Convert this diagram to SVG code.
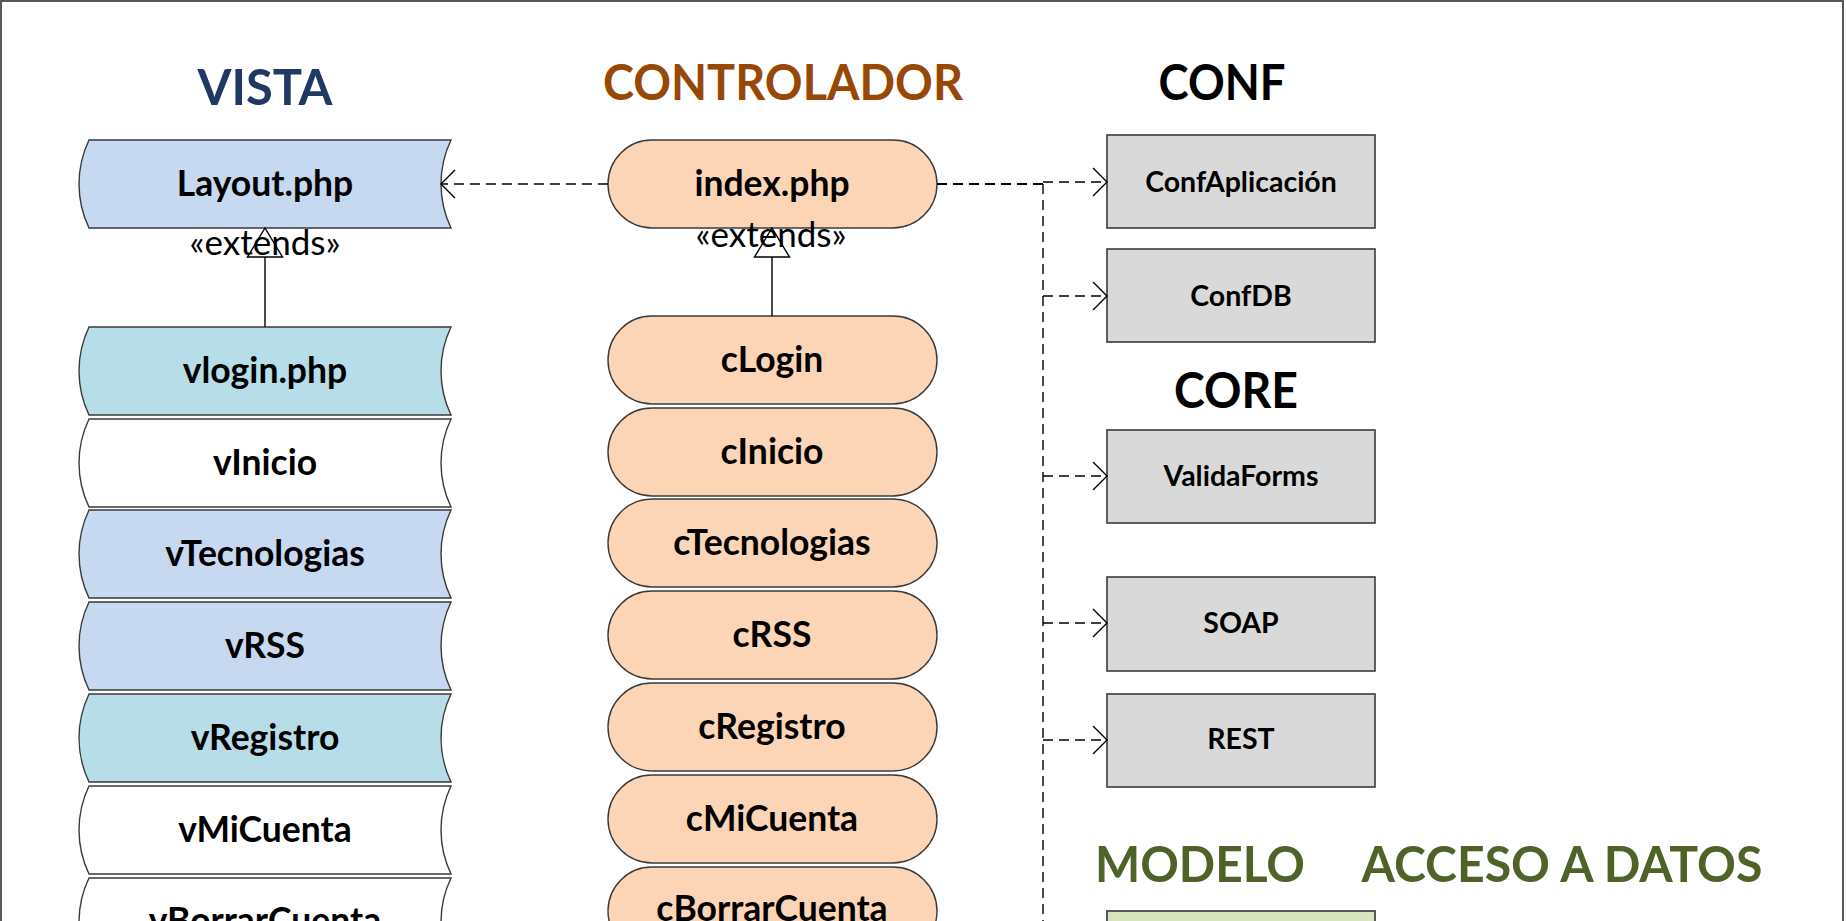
<svg xmlns="http://www.w3.org/2000/svg" width="1846" height="921" viewBox="0 0 1846 921">
<style>
.title{font-family:Lato,"Open Sans","Liberation Sans",sans-serif;font-weight:bold;font-size:49px;text-anchor:middle}
.lbl{font-family:Lato,"Open Sans","Liberation Sans",sans-serif;font-weight:bold;font-size:35.5px;text-anchor:middle;fill:#000}
.blbl{font-family:Lato,"Open Sans","Liberation Sans",sans-serif;font-weight:bold;font-size:28.5px;text-anchor:middle;fill:#000}
.ext{font-family:Lato,"Open Sans","Liberation Sans",sans-serif;font-size:35px;text-anchor:middle;fill:#000}
.wave{stroke:#3a3a3a;stroke-width:1.4}
.cap{fill:#fbd5b5;stroke:#3a3a3a;stroke-width:1.4}
.box{fill:#d9d9d9;stroke:#3a3a3a;stroke-width:1.6}
.dash{stroke:#000;stroke-width:1.4;fill:none;stroke-dasharray:10 6}
.solid{stroke:#000;stroke-width:1.4;fill:none}
.blue{fill:#c6d9f1}.cyan{fill:#b7dde8}.white{fill:#ffffff}
</style>
<defs>
<marker id="open" markerUnits="userSpaceOnUse" markerWidth="18" markerHeight="32" refX="15" refY="15" orient="auto">
<path d="M1,1 L15,15 L1,29" fill="none" stroke="#000" stroke-width="1.4"/>
</marker>
</defs>
<rect x="0" y="0" width="1846" height="921" fill="#ffffff"/>
<path d="M1,925 V1 H1843 V925" fill="none" stroke="#595959" stroke-width="2"/>

<g id="titles">
<text class="title" x="265" y="105" fill="#1f3864" textLength="135" lengthAdjust="spacingAndGlyphs">VISTA</text>
<text class="title" x="783" y="100" fill="#984806" textLength="360" lengthAdjust="spacingAndGlyphs">CONTROLADOR</text>
<text class="title" x="1222" y="100" fill="#000" textLength="127" lengthAdjust="spacingAndGlyphs">CONF</text>
<text class="title" x="1236" y="408" fill="#000" textLength="124" lengthAdjust="spacingAndGlyphs">CORE</text>
<text class="title" x="1200" y="882" fill="#4f6228" textLength="210" lengthAdjust="spacingAndGlyphs">MODELO</text>
<text class="title" x="1562" y="882" fill="#4f6228" textLength="401" lengthAdjust="spacingAndGlyphs">ACCESO A DATOS</text>
</g>

<g id="vista-layout"><path class="wave blue" d="M89,140 H451 A102,102 0 0 0 451,228 H89 A102,102 0 0 1 89,140 Z"/><text class="lbl" x="265" y="196">Layout.php</text></g>
<g id="vista-vlogin"><path class="wave cyan" d="M89,327 H451 A102,102 0 0 0 451,415 H89 A102,102 0 0 1 89,327 Z"/><text class="lbl" x="265" y="383">vlogin.php</text></g>
<g id="vista-vinicio"><path class="wave white" d="M89,419 H451 A102,102 0 0 0 451,507 H89 A102,102 0 0 1 89,419 Z"/><text class="lbl" x="265" y="475">vInicio</text></g>
<g id="vista-vtecnologias"><path class="wave blue" d="M89,510 H451 A102,102 0 0 0 451,598 H89 A102,102 0 0 1 89,510 Z"/><text class="lbl" x="265" y="566">vTecnologias</text></g>
<g id="vista-vrss"><path class="wave blue" d="M89,602 H451 A102,102 0 0 0 451,690 H89 A102,102 0 0 1 89,602 Z"/><text class="lbl" x="265" y="658">vRSS</text></g>
<g id="vista-vregistro"><path class="wave cyan" d="M89,694 H451 A102,102 0 0 0 451,782 H89 A102,102 0 0 1 89,694 Z"/><text class="lbl" x="265" y="750">vRegistro</text></g>
<g id="vista-vmicuenta"><path class="wave white" d="M89,786 H451 A102,102 0 0 0 451,874 H89 A102,102 0 0 1 89,786 Z"/><text class="lbl" x="265" y="842">vMiCuenta</text></g>
<g id="vista-vborrarcuenta"><path class="wave white" d="M89,878 H451 A102,102 0 0 0 451,966 H89 A102,102 0 0 1 89,878 Z"/><text class="lbl" x="265" y="933">vBorrarCuenta</text></g>

<g id="ctrl-index"><rect class="cap" x="608" y="140" width="329" height="88" rx="44"/><text class="lbl" x="772" y="196">index.php</text></g>
<g id="ctrl-clogin"><rect class="cap" x="608" y="316" width="329" height="88" rx="44"/><text class="lbl" x="772" y="372">cLogin</text></g>
<g id="ctrl-cinicio"><rect class="cap" x="608" y="408" width="329" height="88" rx="44"/><text class="lbl" x="772" y="464">cInicio</text></g>
<g id="ctrl-ctecnologias"><rect class="cap" x="608" y="499" width="329" height="88" rx="44"/><text class="lbl" x="772" y="555">cTecnologias</text></g>
<g id="ctrl-crss"><rect class="cap" x="608" y="591" width="329" height="88" rx="44"/><text class="lbl" x="772" y="647">cRSS</text></g>
<g id="ctrl-cregistro"><rect class="cap" x="608" y="683" width="329" height="88" rx="44"/><text class="lbl" x="772" y="739">cRegistro</text></g>
<g id="ctrl-cmicuenta"><rect class="cap" x="608" y="775" width="329" height="88" rx="44"/><text class="lbl" x="772" y="831">cMiCuenta</text></g>
<g id="ctrl-cborrarcuenta"><rect class="cap" x="608" y="867" width="329" height="88" rx="44"/><text class="lbl" x="772" y="921">cBorrarCuenta</text></g>

<g id="conf-aplicacion"><rect class="box" x="1107" y="135" width="268" height="93"/><text class="blbl" x="1241" y="192">ConfAplicación</text></g>
<g id="conf-db"><rect class="box" x="1107" y="249" width="268" height="93"/><text class="blbl" x="1241" y="306">ConfDB</text></g>
<g id="core-validaforms"><rect class="box" x="1107" y="430" width="268" height="93"/><text class="blbl" x="1241" y="486">ValidaForms</text></g>
<g id="core-soap"><rect class="box" x="1107" y="577" width="268" height="94"/><text class="blbl" x="1241" y="633">SOAP</text></g>
<g id="core-rest"><rect class="box" x="1107" y="694" width="268" height="93"/><text class="blbl" x="1241" y="749">REST</text></g>
<g id="modelo-box"><rect x="1107" y="911" width="268" height="40" fill="#d7e4bd" stroke="#595959" stroke-width="2"/></g>

<g id="connectors">
<line class="dash" x1="608" y1="184" x2="441" y2="184" marker-end="url(#open)"/>
<line class="dash" x1="937" y1="184" x2="1043" y2="184" style="stroke-width:2"/>
<line class="dash" x1="1043" y1="184" x2="1043" y2="925"/>
<line class="dash" x1="1043" y1="182" x2="1107" y2="182" marker-end="url(#open)"/>
<line class="dash" x1="1043" y1="296" x2="1107" y2="296" marker-end="url(#open)"/>
<line class="dash" x1="1043" y1="476" x2="1107" y2="476" marker-end="url(#open)"/>
<line class="dash" x1="1043" y1="623" x2="1107" y2="623" marker-end="url(#open)"/>
<line class="dash" x1="1043" y1="740" x2="1107" y2="740" marker-end="url(#open)"/>
<line class="solid" x1="265" y1="327" x2="265" y2="257"/>
<line class="solid" x1="772" y1="316" x2="772" y2="257"/>
<text class="ext" x="265" y="255">«extends»</text>
<text class="ext" x="771" y="247">«extends»</text>
<polygon class="solid" points="265,228 247.5,257 282.5,257"/>
<polygon class="solid" points="772,228 754.5,257 789.5,257"/>
</g>
</svg>
